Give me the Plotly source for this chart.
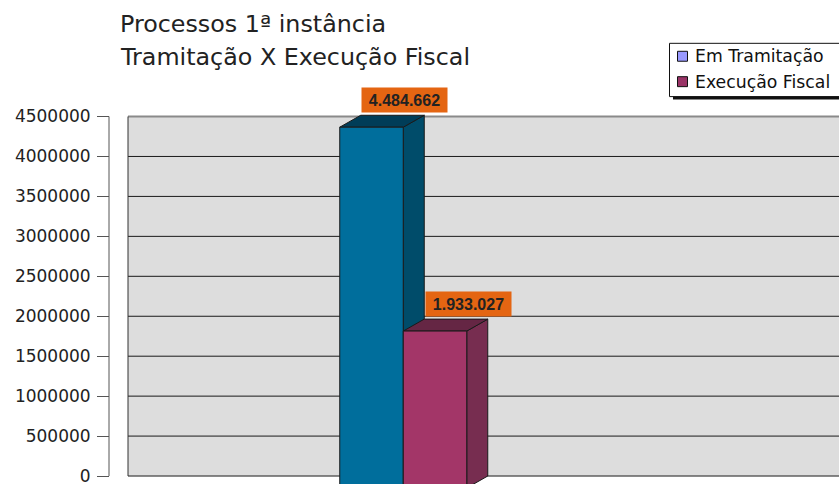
import plotly.graph_objects as go

# ---- data ----
series_names = ["Em Tramitação", "Execução Fiscal"]
values = [4484662, 1933027]
tick_values = [0, 500000, 1000000, 1500000, 2000000, 2500000, 3000000, 3500000, 4000000, 4500000]
title_lines = ["Processos 1ª instância", "Tramitação X Execução Fiscal"]

# ---- styles ----
legend_colors = ["#9999FF", "#993366"]
front_colors = ["#006E9C", "#A33668"]
top_colors = ["#003D58", "#652644"]
side_colors = ["#004C6A", "#772D50"]
label_bg = "#E46512"
EDGE = "#1a1a1a"

W, H = 839, 486
Y0_PX, YTOP_PX = 478, 117          # pixel rows of 0 and of the top tick
YMAX = tick_values[-1]
PX = YMAX / (Y0_PX - YTOP_PX)      # data units per pixel (y)
UNIT = 63.5                          # pixels per x unit (bar width)
X0_CENTER = 371.5                    # pixel column of first bar center
PLOT_LEFT = 128
AXIS_X = 109

DX = 21 / UNIT                       # depth offset x (units)
DY = 12 * PX                         # depth offset y (units)
DROP = 9.5 * PX                      # front-top below value

fig = go.Figure()

def poly(xs, ys, color):
    fig.add_trace(go.Scatter(
        x=xs + [xs[0]], y=ys + [ys[0]], mode="lines", fill="toself",
        fillcolor=color, line=dict(color=EDGE, width=1),
        hoverinfo="skip", showlegend=False))

for i, v in enumerate(values):
    xl, xr = i - 0.5, i + 0.5
    top = v - DROP
    base = -DY
    # side face
    poly([xr, xr, xr + DX, xr + DX], [base, top, top + DY, base + DY], side_colors[i])
    # top face
    poly([xl, xr, xr + DX, xl + DX], [top, top, top + DY, top + DY], top_colors[i])
    # front face
    poly([xl, xr, xr, xl], [base, base, top, top], front_colors[i])

shapes = []
xl_paper = PLOT_LEFT / W
shapes.append(dict(type="rect", xref="paper", yref="y", x0=xl_paper, x1=1.0,
                   y0=0, y1=YMAX, fillcolor="#DDDDDD", line=dict(width=0), layer="below"))
for tv in tick_values[:-1]:
    shapes.append(dict(type="line", xref="paper", yref="y", x0=xl_paper, x1=1.0,
                       y0=tv, y1=tv, line=dict(color=EDGE, width=1), layer="below"))
shapes.append(dict(type="line", xref="paper", yref="y", x0=xl_paper, x1=1.0,
                   y0=YMAX, y1=YMAX, line=dict(color="#8a8a8a", width=2), layer="below"))
shapes.append(dict(type="line", xref="paper", yref="y", x0=xl_paper, x1=xl_paper,
                   y0=0, y1=YMAX, line=dict(color="#333333", width=1), layer="below"))
shapes.append(dict(type="line", xref="paper", yref="y", x0=AXIS_X / W, x1=AXIS_X / W,
                   y0=0, y1=YMAX, line=dict(color="#555555", width=1), layer="below"))

# legend (drawn manually)
def px_x(p): return p / W
def px_y(p): return 1 - p / H
shapes.append(dict(type="rect", xref="paper", yref="paper", x0=px_x(673), x1=px_x(860),
                   y0=px_y(100), y1=px_y(47), fillcolor="#111111", line=dict(width=0)))
shapes.append(dict(type="rect", xref="paper", yref="paper", x0=px_x(669.5), x1=px_x(860),
                   y0=px_y(97), y1=px_y(43.5), fillcolor="white",
                   line=dict(color="#111111", width=1)))
annotations = []
for i, name in enumerate(series_names):
    cy = 56.5 + 25.5 * i
    shapes.append(dict(type="rect", xref="paper", yref="paper", x0=px_x(677.5), x1=px_x(687.5),
                       y0=px_y(cy + 5), y1=px_y(cy - 5), fillcolor=legend_colors[i],
                       line=dict(color="#111111", width=1)))
    annotations.append(dict(xref="paper", yref="paper", x=px_x(693), y=px_y(cy),
                            xanchor="left", yanchor="middle", showarrow=False, text=name,
                            font=dict(family="DejaVu Sans", size=17.3, color="#111111")))

# title
for j, line in enumerate(title_lines):
    annotations.append(dict(xref="paper", yref="paper", x=px_x(118), y=px_y(24 + 33.5 * j),
                            xanchor="left", yanchor="middle", showarrow=False, text=line,
                            font=dict(family="DejaVu Sans", size=23.8, color="#222222")))

# value labels
for i, v in enumerate(values):
    txt = f"{v:,}".replace(",", ".")
    annotations.append(dict(xref="x", yref="y", x=i + 0.52, y=v - DROP + DY,
                            xanchor="center", yanchor="bottom", yshift=2, showarrow=False,
                            text=f"<b>{txt}</b>", bgcolor=label_bg, width=79, height=18,
                            borderpad=3,
                            font=dict(family="Liberation Sans", size=16, color="#222222")))

fig.update_layout(
    width=W, height=H, margin=dict(l=0, r=0, t=0, b=0),
    paper_bgcolor="white", plot_bgcolor="white", showlegend=False,
    xaxis=dict(domain=[xl_paper, 1.0], visible=False, fixedrange=True,
               range=[(PLOT_LEFT - X0_CENTER) / UNIT, (W - X0_CENTER) / UNIT]),
    yaxis=dict(anchor="free", position=AXIS_X / W, range=[-8 * PX, Y0_PX * PX],
               tickvals=tick_values, tickformat="d", ticks="outside", ticklen=12,
               tickcolor="#555555", tickwidth=1, showline=False, showgrid=False,
               zeroline=False, ticklabelstandoff=3, fixedrange=True,
               ticklabeloverflow="allow",
               tickfont=dict(family="DejaVu Sans", size=17, color="#222222")),
    shapes=shapes, annotations=annotations,
)

fig.write_html("out.html", config={"displayModeBar": False},
               post_script="document.body.style.margin='0';document.body.style.overflow='hidden';")
